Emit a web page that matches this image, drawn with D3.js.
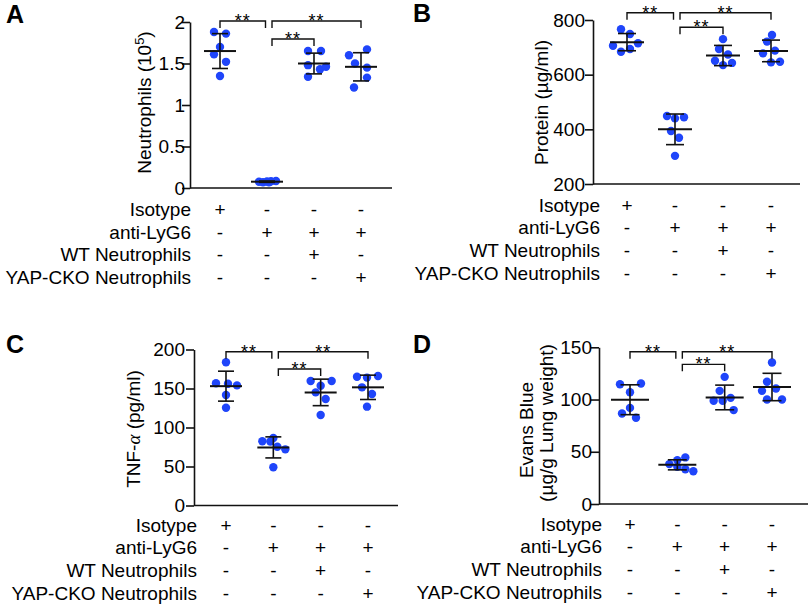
<!DOCTYPE html>
<html>
<head>
<meta charset="utf-8">
<script src="https://cdn.jsdelivr.net/npm/d3@7"></script>
<style>
  html, body { margin: 0; padding: 0; background: #fff; }
  svg { display: block; font-family: "Liberation Sans", Arial, Helvetica, sans-serif; }
</style>
</head>
<body>
<svg id="chart" width="810" height="608"></svg>
<script>
// ---------------- DATA ----------------
const groups = ["G1", "G2", "G3", "G4"];
const rowLabels = ["Isotype", "anti-LyG6", "WT Neutrophils", "YAP-CKO Neutrophils"];
const isotypeRow  = ["+", "-", "-", "-"];
const antiLyG6Row = ["-", "+", "+", "+"];
const wtRow       = ["-", "-", "+", "-"];
const yapRow      = ["-", "-", "-", "+"];

// Panel A: Neutrophils (10^5)
const neutrophilsValues = [
  [1.88, 1.86, 1.70, 1.61, 1.52, 1.35],
  [0.075, 0.07, 0.078, 0.082, 0.085, 0.07],
  [1.65, 1.65, 1.48, 1.43, 1.46, 1.34],
  [1.60, 1.67, 1.50, 1.45, 1.33, 1.21]
];
const neutrophilsMean = [1.65, 0.076, 1.50, 1.46];
const neutrophilsSD   = [0.21, 0.008, 0.125, 0.17];
const neutrophilsTicks = [0, 0.5, 1, 1.5, 2];

// Panel B: Protein (µg/ml)
const proteinValues = [
  [766, 749, 706, 715, 684, 694],
  [449, 444, 440, 394, 369, 303],
  [730, 694, 674, 651, 635, 643],
  [745, 721, 688, 678, 645, 647]
];
const proteinMean = [719, 400, 670, 687];
const proteinSD   = [31.5, 56, 37, 39.5];
const proteinTicks = [200, 400, 600, 800];

// Panel C: TNF-α (pg/ml)
const tnfValues = [
  [183.6, 156.7, 156, 154, 141.7, 125.4],
  [82.3, 82, 86.5, 75.4, 72, 49],
  [159.6, 153.6, 159.6, 145, 136.5, 116],
  [165, 164, 166, 151.5, 143, 126.7]
];
const tnfMean = [153, 74.5, 145, 151.5];
const tnfSD   = [19.2, 13.5, 17, 15.6];
const tnfTicks = [0, 50, 100, 150, 200];

// Panel D: Evans Blue (µg/g Lung weight)
const evansValues = [
  [114.7, 115.4, 107, 86.7, 92, 82.5],
  [38.2, 42, 44.6, 35.7, 33.2, 31.3],
  [121.7, 108.3, 101.6, 98.8, 98.8, 89.9],
  [135.5, 117, 110.6, 108.3, 100, 100]
];
const evansMean = [99.8, 37.5, 102, 112];
const evansSD   = [14.3, 4.8, 11.8, 13.1];
const evansTicks = [0, 50, 100, 150];

// significance brackets: [fromGroup, toGroup, level (data units)]
const sigA = [[0, 1, 2.012], [1, 3, 2.012], [1, 2, 1.795]];
const sigB = [[0, 1, 826.7], [1, 3, 826.7], [1, 2, 773.3]];
const sigC = [[0, 1, 197.2], [1, 3, 197.2], [1, 2, 175]];
const sigD = [[0, 1, 145.8], [1, 3, 145.8], [1, 2, 133.7]];

// ---------------- LAYOUT (point scatter offsets, px) ----------------
const jitterA = [[-6, 6, 0, -6, 6, 0], [-8, -4, 0, 4, 9, 2], [-6, 7, -6, 6, 12, -6], [-12, 6, -6, 6, 6, -7]];
const jitterB = [[-6, 3, -14, 11, -6, 3], [-8, 9, 0, -4, 4, 0], [0, -4, 5, -8, 0, 9], [1, -4, 4, -8, 0, 9]];
const jitterC = [[0, -10, 2, 11, 0, 0], [-11, -3, 0, 4, 12, 0], [-10, 0, 11, -5, 5, 0], [-11, -1, 10, -6, 4, -1]];
const jitterD = [[-10, 11, 0, -8, 0, 6], [-8, 0, 8, 0, 8, 16], [0, -5, 6, -11, -2, 9], [0, -5, 4, -10, -5, 10]];

const panels = [
  { letter: "A", letterPos: [6, 23], values: neutrophilsValues, mean: neutrophilsMean, sd: neutrophilsSD,
    ticks: neutrophilsTicks, domain: [0, 2], sig: sigA, jitter: jitterA,
    axisX: 190, axisEnd: 392, yRange: [188, 22], xRange: [220, 361], labelGap: 5,
    tableBase: 216, tableRight: 191, meanHalf: 16, capHalf: 8,
    title: { type: "neut", x: 151, y: 102.5 } },
  { letter: "B", letterPos: [413, 22], values: proteinValues, mean: proteinMean, sd: proteinSD,
    ticks: proteinTicks, domain: [200, 800], sig: sigB, jitter: jitterB,
    axisX: 593, axisEnd: 800, yRange: [184, 20], xRange: [627, 771], labelGap: 8,
    tableBase: 211.5, tableRight: 600, meanHalf: 17, capHalf: 9,
    title: { type: "prot", x: 548, y: 102.5 } },
  { letter: "C", letterPos: [6, 353], values: tnfValues, mean: tnfMean, sd: tnfSD,
    ticks: tnfTicks, domain: [0, 200], sig: sigC, jitter: jitterC,
    axisX: 194, axisEnd: 398, yRange: [505.5, 349.5], xRange: [226, 368], labelGap: 9,
    tableBase: 531.5, tableRight: 197, meanHalf: 16, capHalf: 8,
    title: { type: "tnf", x: 139.5, y: 429 } },
  { letter: "D", letterPos: [413, 353], values: evansValues, mean: evansMean, sd: evansSD,
    ticks: evansTicks, domain: [0, 150], sig: sigD, jitter: jitterD,
    axisX: 599, axisEnd: 808, yRange: [504, 347.3], xRange: [630, 772], labelGap: 7,
    tableBase: 530.5, tableRight: 602, meanHalf: 19, capHalf: 9.5,
    title: { type: "evans", x: 533, y: 430 } }
];

const tableRows = [isotypeRow, antiLyG6Row, wtRow, yapRow];
const dotColor = "#1f45fa";
const ink = "#111";
const FS = 19;

const svg = d3.select("#chart");

panels.forEach(p => {
  const g = svg.append("g");
  const y = d3.scaleLinear().domain(p.domain).range(p.yRange);
  const x = d3.scalePoint().domain(groups).range(p.xRange);

  // panel letter
  g.append("text").attr("x", p.letterPos[0]).attr("y", p.letterPos[1])
    .attr("font-size", 25).attr("font-weight", "bold").attr("fill", "#000").text(p.letter);

  // y axis
  const tickSize = 8;
  const yAxis = d3.axisLeft(y).tickValues(p.ticks).tickFormat(d3.format("")).tickSize(tickSize)
    .tickSizeOuter(0).tickPadding(p.labelGap - tickSize);
  const ag = g.append("g").attr("transform", `translate(${p.axisX},0)`).call(yAxis);
  ag.select(".domain").attr("stroke", ink).attr("stroke-width", 1.6);
  ag.selectAll(".tick line").attr("stroke", ink).attr("stroke-width", 1.6);
  ag.selectAll(".tick text").attr("font-size", FS).attr("fill", "#000")
    .attr("font-family", '"Liberation Sans", Arial, sans-serif');

  // x baseline
  g.append("line").attr("x1", p.axisX).attr("x2", p.axisEnd)
    .attr("y1", y(p.domain[0])).attr("y2", y(p.domain[0]))
    .attr("stroke", ink).attr("stroke-width", 1.6);

  // points
  groups.forEach((grp, gi) => {
    g.selectAll(null).data(p.values[gi]).enter().append("circle")
      .attr("cx", (d, i) => x(grp) + p.jitter[gi][i])
      .attr("cy", d => y(d))
      .attr("r", 4.2)
      .attr("fill", dotColor);
  });

  // mean & SD
  groups.forEach((grp, gi) => {
    const cx = x(grp), m = p.mean[gi], s = p.sd[gi];
    const eg = g.append("g").attr("stroke", ink).attr("fill", "none");
    eg.append("line").attr("x1", cx).attr("x2", cx).attr("y1", y(m + s)).attr("y2", y(m - s)).attr("stroke-width", 1.6);
    eg.append("line").attr("x1", cx - p.capHalf).attr("x2", cx + p.capHalf).attr("y1", y(m + s)).attr("y2", y(m + s)).attr("stroke-width", 1.6);
    eg.append("line").attr("x1", cx - p.capHalf).attr("x2", cx + p.capHalf).attr("y1", y(m - s)).attr("y2", y(m - s)).attr("stroke-width", 1.6);
    eg.append("line").attr("x1", cx - p.meanHalf).attr("x2", cx + p.meanHalf).attr("y1", y(m)).attr("y2", y(m)).attr("stroke-width", 2);
  });

  // significance brackets
  p.sig.forEach(([a, b, lvl]) => {
    const x1 = a === 0 ? x(groups[a]) : x(groups[a]) + 5;
    const x2 = b === 1 ? x(groups[b]) - 1.5 : x(groups[b]);
    const yy = y(lvl);
    g.append("path")
      .attr("d", `M${x1},${yy + 7}V${yy}H${x2}V${yy + 7}`)
      .attr("fill", "none").attr("stroke", ink).attr("stroke-width", 1.4);
    g.append("text").attr("x", (x1 + x2) / 2).attr("y", yy + 6)
      .attr("text-anchor", "middle").attr("font-size", 18).attr("letter-spacing", 1)
      .attr("fill", "#000").text("**");
  });

  // table
  rowLabels.forEach((lab, ri) => {
    const by = p.tableBase + ri * 22.7;
    g.append("text").attr("x", p.tableRight).attr("y", by).attr("text-anchor", "end")
      .attr("font-size", FS).attr("fill", "#000").text(lab);
    groups.forEach((grp, gi) => {
      g.append("text").attr("x", x(grp)).attr("y", by).attr("text-anchor", "middle")
        .attr("font-size", FS).attr("fill", "#000").text(tableRows[ri][gi]);
    });
  });

  // y title
  const t = p.title;
  if (t.type === "evans") {
    g.append("text").attr("transform", `translate(${t.x},${t.y}) rotate(-90)`)
      .attr("text-anchor", "middle").attr("font-size", FS).attr("fill", "#000").text("Evans Blue");
    g.append("text").attr("transform", `translate(${t.x + 19.5},${t.y - 7}) rotate(-90)`)
      .attr("text-anchor", "middle").attr("font-size", FS).attr("fill", "#000").text("(µg/g Lung weight)");
  } else {
    const tt = g.append("text").attr("transform", `translate(${t.x},${t.y}) rotate(-90)`)
      .attr("text-anchor", "middle").attr("font-size", FS).attr("fill", "#000");
    if (t.type === "neut") {
      tt.append("tspan").text("Neutrophils (10");
      tt.append("tspan").attr("dy", -7).attr("font-size", 13).text("5");
      tt.append("tspan").attr("dy", 7).text(")");
    } else if (t.type === "prot") {
      tt.text("Protein (µg/ml)");
    } else if (t.type === "tnf") {
      tt.append("tspan").text("TNF-");
      tt.append("tspan").attr("font-style", "italic").attr("font-family", '"Liberation Serif", serif').text("α");
      tt.append("tspan").text(" (pg/ml)");
    }
  }
});
</script>
</body>
</html>
